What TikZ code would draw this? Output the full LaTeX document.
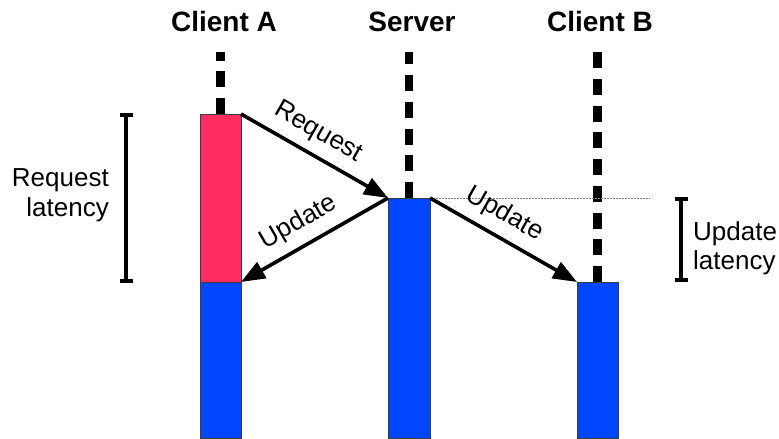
\documentclass[tikz,border=0pt]{standalone}
\usepackage{fontspec}
\setmainfont{Liberation Sans}
\usetikzlibrary{arrows.meta}
\definecolor{reqred}{RGB}{255,45,98}
\definecolor{barblue}{RGB}{0,70,255}
\definecolor{bardraw}{RGB}{60,60,60}
\tikzset{
  bar/.style={draw=bardraw, line width=0.8pt, inner sep=0pt, outer sep=0pt, anchor=north west, minimum width=41pt},
  title/.style={font=\fontsize{28}{32}\selectfont\bfseries, anchor=base, inner sep=0pt},
  lbl/.style={font=\fontsize{26}{30}\selectfont, inner sep=2pt},
  life/.style={line width=8.5pt, dash pattern=on 16pt off 10.7pt},
  msg/.style={line width=3.6pt, -{Triangle[length=24pt,width=18pt]}},
  brack/.style={line width=3.6pt},
  guide/.style={line width=0.9pt, gray, dash pattern=on 1.5pt off 1.5pt}
}
\begin{document}
\begin{tikzpicture}[x=1pt,y=1pt]
\useasboundingbox (0,0) rectangle (779,439);
% bars
\node[bar, fill=reqred, minimum height=168pt] (ra) at (200,325) {};
\node[bar, fill=barblue, minimum height=156pt] (ba) at (200,157) {};
\node[bar, fill=barblue, minimum width=42pt, minimum height=240pt] (srv) at (388,241) {};
\node[bar, fill=barblue, minimum height=156pt] (cb) at (577,157) {};
% titles
\node[title] (ta) at (224,407) {Client A};
\node[title] (ts) at (412,407) {Server};
\node[title] (tb) at (600,407) {Client B};
% lifelines
\coordinate (la) at (220.5,387);
\coordinate (ls) at (409,387);
\coordinate (lb) at (597.5,387);
\draw[life] (ra.north) -- (la);
\draw[life] (srv.north) -- (ls);
\draw[life] (cb.north) -- (lb);
% guide line
\coordinate (gend) at (650,241);
\draw[guide] (srv.north east) -- (gend);
% messages
\draw[msg] (ra.north east) -- node[lbl, sloped, above=7pt, pos=0.45] {Request} (srv.north west);
\draw[msg] (srv.north west) -- node[lbl, sloped, above=7pt, pos=0.53] {Update} (ba.north east);
\draw[msg] (srv.north east) -- node[lbl, sloped, above=7pt, pos=0.43] {Update} (cb.north west);
% request latency bracket
\coordinate (rl1) at (126,324);
\coordinate (rl2) at (126,158);
\draw[brack] (rl1) -- (rl2);
\draw[brack] ([xshift=-6.5pt]rl1) -- ([xshift=6.5pt]rl1);
\draw[brack] ([xshift=-6.5pt]rl2) -- ([xshift=6.5pt]rl2);
\node[lbl, align=right, anchor=east, inner sep=0pt] (rlt) at (109,244) {Request\\latency};
% update latency bracket
\coordinate (ul1) at (681,240);
\coordinate (ul2) at (681,159);
\draw[brack] (ul1) -- (ul2);
\draw[brack] ([xshift=-6.5pt]ul1) -- ([xshift=6.5pt]ul1);
\draw[brack] ([xshift=-6.5pt]ul2) -- ([xshift=6.5pt]ul2);
\node[lbl, align=left, anchor=west, inner sep=0pt, font=\fontsize{26}{29}\selectfont] (ult) at (693,191) {Update\\latency};
\end{tikzpicture}
\end{document}
